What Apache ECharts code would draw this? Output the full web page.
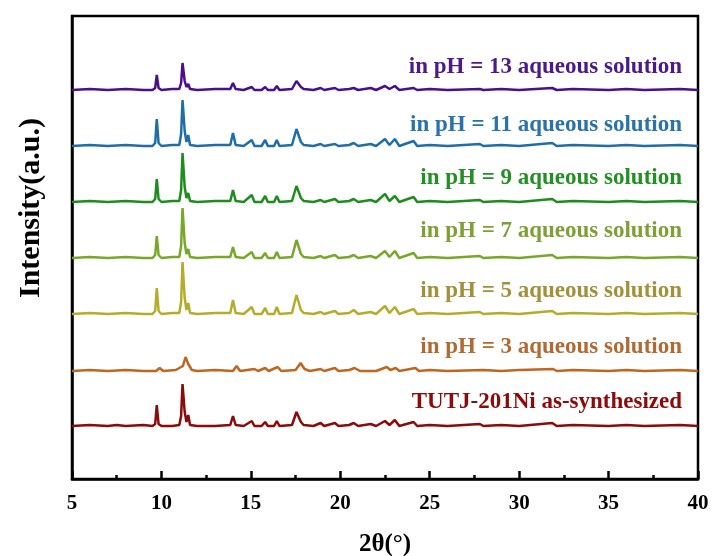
<!DOCTYPE html>
<html>
<head>
<meta charset="utf-8">
<script src="https://cdn.jsdelivr.net/npm/echarts@6/dist/echarts.min.js"></script>
<style>
  html, body { margin: 0; padding: 0; background: #fff; }
  #main { width: 716px; height: 556px; }
</style>
</head>
<body>
<div id="main"></div>
<script>
// 样品名称（从下到上）
const names = [
  "TUTJ-201Ni as-synthesized",
  "in pH = 3 aqueous solution",
  "in pH = 5 aqueous solution",
  "in pH = 7 aqueous solution",
  "in pH = 9 aqueous solution",
  "in pH = 11 aqueous solution",
  "in pH = 13 aqueous solution"
];
const lineColors = ["#8b0a0a", "#c0661e", "#b5ad2a", "#78a829", "#1e8c1e", "#1f6ea8", "#4b0e8c"];
const textColors = ["#8b0a0a", "#b06a34", "#a3903a", "#7fa037", "#249024", "#2a73a8", "#4b1a88"];
// 每条曲线的纵向偏移 (a.u.)
const offsets = [53, 108, 165, 221, 277, 333, 389];
const xTicks = [5, 10, 15, 20, 25, 30, 35, 40];

// [2θ, 相对强度]
const tutj = [[5,0],[6,1],[7,0],[7.5,1],[8,0],[9,1],[9.5,0],[9.65,2],[9.74,21],[9.84,2],[10,0],[10.6,0],[11.0,1],[11.1,10],[11.18,42],[11.3,14],[11.4,4],[11.5,11],[11.6,1],[12,0],[13,0],[13.85,1],[14.0,10],[14.15,1],[14.6,0],[15.05,5],[15.2,0],[15.6,0],[15.8,4],[15.95,0],[16.3,0],[16.45,5],[16.6,0],[17.3,1],[17.55,14],[17.8,4],[17.95,1],[18.5,0],[18.9,3],[19.1,0],[19.7,3],[19.9,0],[20.5,1],[20.75,3],[21.0,0],[21.7,2],[22.0,0],[22.5,5],[22.75,1],[23.05,6],[23.3,0],[24.1,4],[24.3,0],[25,1],[26,0],[27.8,2],[28,0],[29,1],[30,0],[31.85,3],[32.1,0],[33,1],[35,0],[36,1],[37,0],[39,1],[40,0]];
const ph3 = [[5,0],[6,1],[7,0],[8,1],[9,0],[9.7,0],[9.9,3],[10.1,0],[10.8,1],[11.2,5],[11.35,14],[11.5,7],[11.7,1],[12,0],[13,1],[14.0,0],[14.2,5],[14.4,0],[15.2,2],[15.4,0],[15.8,3],[16.0,0],[16.5,4],[16.7,0],[17.5,1],[17.78,8],[18.0,2],[18.3,0],[18.9,2],[19.1,0],[19.7,3],[19.9,0],[20.5,1],[20.8,3],[21.1,0],[22.0,0],[22.6,4],[22.8,1],[23.1,3],[23.3,0],[24.2,3],[24.4,0],[25,1],[26,0],[28,1],[29,0],[30,1],[31.9,2],[32.1,0],[33,1],[35,0],[36,1],[37,0],[39,1],[40,0]];
const ph5 = [[5,0],[6,1],[7,0],[8,1],[9,0],[9.5,0],[9.65,3],[9.74,26],[9.84,3],[10,0],[10.6,1],[11.0,1],[11.1,12],[11.18,52],[11.3,16],[11.4,4],[11.5,11],[11.6,1],[12,0],[13,1],[13.85,1],[14.0,14],[14.15,1],[14.6,0],[15.05,7],[15.2,0],[15.6,0],[15.8,6],[15.95,0],[16.3,0],[16.45,7],[16.6,0],[17.3,1],[17.55,19],[17.8,4],[17.95,1],[18.5,0],[18.9,2],[19.1,0],[19.7,3],[19.9,0],[20.5,1],[20.75,4],[21.0,0],[21.7,2],[22.0,0],[22.5,8],[22.75,1],[23.05,7],[23.3,0],[24.1,5],[24.3,0],[25,1],[26,0],[27.8,2],[28,0],[29,1],[30,0],[31.85,3],[32.1,0],[33,1],[35,0],[36,1],[37,0],[39,1],[40,0]];
const ph7 = [[5,0],[6,1],[7,0],[8,1],[9,0],[9.5,0],[9.65,3],[9.74,22],[9.84,3],[10,0],[10.6,1],[11.0,1],[11.1,12],[11.18,50],[11.3,15],[11.4,4],[11.5,9],[11.6,1],[12,0],[13,1],[13.85,1],[14.0,11],[14.15,1],[14.6,0],[15.05,6],[15.2,0],[15.6,0],[15.8,5],[15.95,0],[16.3,0],[16.45,6],[16.6,0],[17.3,1],[17.55,18],[17.8,4],[17.95,1],[18.5,0],[18.9,2],[19.1,0],[19.7,3],[19.9,0],[20.5,1],[20.75,3],[21.0,0],[21.7,2],[22.0,0],[22.5,7],[22.75,1],[23.05,7],[23.3,0],[24.1,5],[24.3,0],[25,1],[26,0],[27.8,2],[28,0],[29,1],[30,0],[31.85,3],[32.1,0],[33,1],[35,0],[36,1],[37,0],[39,1],[40,0]];
const ph9 = [[5,0],[6,1],[7,0],[8,1],[9,0],[9.5,0],[9.65,3],[9.74,23],[9.84,3],[10,0],[10.6,1],[11.0,1],[11.1,12],[11.18,49],[11.3,15],[11.4,4],[11.5,9],[11.6,1],[12,0],[13,1],[13.85,1],[14.0,12],[14.15,1],[14.6,0],[15.05,7],[15.2,0],[15.6,0],[15.8,6],[15.95,0],[16.3,0],[16.45,6],[16.6,0],[17.3,1],[17.55,16],[17.8,4],[17.95,1],[18.5,0],[18.9,2],[19.1,0],[19.7,3],[19.9,0],[20.5,1],[20.75,3],[21.0,0],[21.7,2],[22.0,0],[22.5,8],[22.75,1],[23.05,6],[23.3,0],[24.1,5],[24.3,0],[25,1],[26,0],[27.8,2],[28,0],[29,1],[30,0],[31.85,3],[32.1,0],[33,1],[35,0],[36,1],[37,0],[39,1],[40,0]];
const ph11 = [[5,0],[6,1],[7,0],[8,1],[9,0],[9.5,0],[9.65,3],[9.74,27],[9.84,3],[10,0],[10.6,1],[11.0,1],[11.1,12],[11.18,46],[11.3,15],[11.4,4],[11.5,11],[11.6,1],[12,0],[13,1],[13.85,1],[14.0,13],[14.15,1],[14.6,0],[15.05,6],[15.2,0],[15.6,0],[15.8,6],[15.95,0],[16.3,0],[16.45,6],[16.6,0],[17.3,1],[17.55,17],[17.8,4],[17.95,1],[18.5,0],[18.9,2],[19.1,0],[19.7,2],[19.9,0],[20.5,1],[20.75,3],[21.0,0],[21.7,2],[22.0,0],[22.5,7],[22.75,1],[23.05,7],[23.3,0],[24.1,5],[24.3,0],[25,1],[26,0],[27.8,2],[28,0],[29,1],[30,0],[31.85,3],[32.1,0],[33,1],[35,0],[36,1],[37,0],[39,1],[40,0]];
const ph13 = [[5,0],[6,1],[7,0],[8,1],[9,0],[9.5,0],[9.65,2],[9.74,15],[9.84,2],[10,0],[10.6,1],[11.0,1],[11.1,7],[11.18,27],[11.3,9],[11.4,3],[11.5,6],[11.6,1],[12,0],[13,1],[13.85,1],[14.0,7],[14.15,1],[14.6,0],[15.05,3],[15.2,0],[15.6,0],[15.8,3],[15.95,0],[16.3,0],[16.45,4],[16.6,0],[17.3,1],[17.55,9],[17.8,3],[17.95,1],[18.5,0],[18.9,2],[19.1,0],[19.7,2],[19.9,0],[20.5,1],[20.75,2],[21.0,0],[21.7,2],[22.0,0],[22.5,4],[22.75,1],[23.05,4],[23.3,0],[24.1,2],[24.3,0],[25,1],[26,0],[27.8,1],[28,0],[29,1],[30,0],[31.85,2],[32.1,0],[33,1],[35,0],[36,1],[37,0],[39,1],[40,0]];
const patterns = [tutj, ph3, ph5, ph7, ph9, ph11, ph13];

// 标签位置 (像素)
const labelY = [403, 348, 292, 232, 179, 126, 68];

let initChart = () => {
  let element = document.getElementById("main");
  let myChart = echarts.init(element);
  const serif = "'Liberation Serif', 'DejaVu Serif', serif";
  let series = patterns.map((pat, i) => ({
    name: names[i],
    type: "line",
    symbol: "none",
    smooth: false,
    data: pat.map(p => [p[0], p[1] + offsets[i]]),
    lineStyle: { color: lineColors[i], width: 2.5 },
    itemStyle: { color: lineColors[i] },
    z: 10 - i
  }));
  let labels = names.map((n, i) => ({
    type: "text",
    right: 716 - 682,
    top: labelY[i] - 12,
    style: {
      text: n,
      fill: textColors[i],
      font: "bold 23px " + serif
    },
    z: 100
  }));
  // 纵轴标题
  labels.push({
    type: "text",
    x: 31,
    y: 208,
    rotation: Math.PI / 2,
    style: {
      text: "Intensity(a.u.)",
      fill: "#000",
      font: "bold 30px " + serif,
      textAlign: "center",
      textVerticalAlign: "middle"
    }
  });
  let option = {
    animation: false,
    grid: {
      left: 72,
      right: 18,
      top: 16,
      bottom: 77,
      containLabel: false,
      outerBoundsMode: "none",
      show: true,
      borderColor: "#000",
      borderWidth: 2.5
    },
    xAxis: {
      type: "value",
      min: 5,
      max: 40,
      interval: 5,
      name: "2θ(°)",
      nameLocation: "middle",
      nameGap: 53,
      nameTextStyle: { fontFamily: serif, fontWeight: "bold", fontSize: 25, color: "#000" },
      axisLine: { show: true, lineStyle: { color: "#000", width: 2.5 } },
      axisTick: { show: true, inside: true, length: 8, lineStyle: { color: "#000", width: 2.5 } },
      minorTick: { show: true, splitNumber: 2, length: 4, lineStyle: { color: "#000", width: 2.5 } },
      splitLine: { show: false },
      axisLabel: {
        margin: 14,
        fontFamily: serif,
        fontWeight: "bold",
        fontSize: 21,
        color: "#000",
        formatter: v => (xTicks.indexOf(v) >= 0 ? String(v) : "")
      }
    },
    yAxis: {
      type: "value",
      min: 0,
      max: 463,
      axisLine: { show: true, lineStyle: { color: "#000", width: 2.5 } },
      axisTick: { show: false },
      axisLabel: { show: false },
      splitLine: { show: false }
    },
    graphic: labels,
    series: series
  };
  myChart.setOption(option);
};
initChart();
</script>
</body>
</html>
